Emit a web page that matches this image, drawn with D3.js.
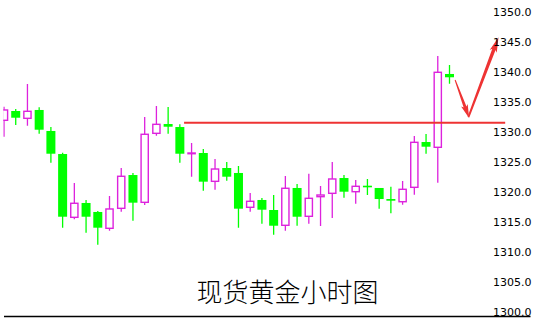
<!DOCTYPE html>
<html>
<head>
<meta charset="utf-8">
<script src="https://cdn.jsdelivr.net/npm/d3@7"></script>
<style>
  body { margin: 0; background: #fff; }
  svg { display: block; }
</style>
</head>
<body>
<div id="chart"></div>
<script>
// hourly spot gold candles
var opens  = [1331.95, 1333.50, 1332.28, 1333.67, 1330.17, 1326.33, 1315.78, 1318.17, 1316.67, 1313.95,
              1317.28, 1322.83, 1318.28, 1329.78, 1331.33, 1330.83, 1326.38, 1326.50, 1321.78, 1324.00,
              1323.17, 1317.45, 1318.67, 1317.00, 1314.45, 1320.67, 1315.95, 1319.22, 1319.78, 1322.33,
              1320.05, 1321.05, 1320.67, 1318.83, 1318.38, 1320.78, 1328.33, 1327.45, 1339.67];
var highs  = [1334.22, 1333.83, 1338.00, 1334.12, 1330.83, 1326.55, 1321.50, 1318.67, 1316.83, 1319.33,
              1324.00, 1323.17, 1332.50, 1334.33, 1334.17, 1331.28, 1328.17, 1327.17, 1325.50, 1325.00,
              1324.33, 1319.83, 1319.00, 1319.50, 1322.67, 1321.33, 1323.05, 1321.00, 1325.00, 1322.83,
              1322.00, 1322.17, 1320.67, 1320.88, 1321.83, 1329.33, 1329.67, 1342.67, 1341.17];
var lows   = [1329.22, 1331.17, 1331.05, 1329.72, 1324.88, 1314.05, 1315.45, 1313.22, 1311.22, 1313.55,
              1316.72, 1315.22, 1317.83, 1329.38, 1329.72, 1324.88, 1322.55, 1320.22, 1320.38, 1321.88,
              1314.05, 1316.72, 1314.72, 1312.88, 1313.55, 1314.38, 1314.72, 1314.33, 1315.67, 1319.05,
              1318.05, 1319.50, 1317.22, 1316.45, 1317.88, 1319.55, 1326.38, 1321.55, 1338.05];
var closes = [1333.67, 1332.38, 1333.45, 1330.38, 1326.38, 1315.88, 1318.12, 1315.88, 1314.05, 1317.17,
              1322.62, 1318.22, 1329.62, 1331.28, 1330.88, 1326.38, 1326.50, 1321.72, 1323.83, 1322.55,
              1317.22, 1318.45, 1317.05, 1314.38, 1320.62, 1315.88, 1318.95, 1319.50, 1322.17, 1320.05,
              1320.95, 1320.78, 1318.83, 1318.55, 1320.45, 1328.28, 1327.55, 1339.95, 1339.12];

var yTicks = [1300, 1305, 1310, 1315, 1320, 1325, 1330, 1335, 1340, 1345, 1350];
var resistance = 1331.55;
var title = "现货黄金小时图";

var width = 537, height = 322;
var upColor = "#dd22dd", downColor = "#00ff00", redColor = "#ee3333";

var svg = d3.select("#chart").append("svg")
    .attr("width", width)
    .attr("height", height);

var x = d3.scaleLinear().domain([0, 38]).range([4, 449.5]);
var y = d3.scaleLinear().domain([1300, 1350]).range([312, 12]);

svg.append("clipPath").attr("id", "plot")
    .append("rect").attr("x", 3.3).attr("y", 0).attr("width", 490).attr("height", 316);

var g = svg.append("g").attr("clip-path", "url(#plot)");

var candles = opens.map(function(o, i) {
    return {i: i, o: o, h: highs[i], l: lows[i], c: closes[i]};
});

var c = g.selectAll("g.candle")
    .data(candles)
    .enter().append("g").attr("class", "candle");

c.append("line")
    .attr("x1", function(d) { return x(d.i); })
    .attr("x2", function(d) { return x(d.i); })
    .attr("y1", function(d) { return y(d.h); })
    .attr("y2", function(d) { return y(d.l); })
    .attr("stroke", function(d) { return d.c >= d.o ? upColor : downColor; })
    .attr("stroke-width", 1.3);

c.append("rect")
    .attr("x", function(d) { return d.c >= d.o ? x(d.i) - 3.6 : x(d.i) - 4.5; })
    .attr("width", function(d) { return d.c >= d.o ? 7.2 : 9; })
    .attr("y", function(d) { return y(Math.max(d.o, d.c)); })
    .attr("height", function(d) { return Math.max(0.6, Math.abs(y(d.o) - y(d.c))); })
    .attr("fill", function(d) { return d.c >= d.o ? "#fff" : downColor; })
    .attr("stroke", function(d) { return d.c >= d.o ? upColor : "none"; })
    .attr("stroke-width", 1.4);

// resistance line
svg.append("line")
    .attr("x1", x(15.36)).attr("x2", x(42.75))
    .attr("y1", y(resistance)).attr("y2", y(resistance))
    .attr("stroke", redColor)
    .attr("stroke-width", 2);

// tapered hand-drawn style arrow, points given as [index, price]
function arrow(from, to, w0, w1, headLen, headW) {
    var x0 = x(from[0]), y0 = y(from[1]), x1 = x(to[0]), y1 = y(to[1]);
    var dx = x1 - x0, dy = y1 - y0, len = Math.sqrt(dx * dx + dy * dy);
    var ux = dx / len, uy = dy / len, nx = -uy, ny = ux;
    var bx = x1 - ux * headLen, by = y1 - uy * headLen;
    var pts = [
        [x0 + nx * w0 / 2, y0 + ny * w0 / 2],
        [bx + nx * w1 / 2, by + ny * w1 / 2],
        [bx + nx * headW / 2 - ux * 2, by + ny * headW / 2 - uy * 2],
        [x1, y1],
        [bx - nx * headW / 2 - ux * 2, by - ny * headW / 2 - uy * 2],
        [bx - nx * w1 / 2, by - ny * w1 / 2],
        [x0 - nx * w0 / 2, y0 - ny * w0 / 2]
    ];
    svg.append("path")
        .attr("d", d3.line()(pts) + "Z")
        .attr("fill", redColor);
}

arrow([38.48, 1338.67], [39.68, 1332.28], 1, 3, 12, 7);
arrow([39.62, 1332.5], [42.18, 1345.78], 2, 3.5, 13, 7.5);

// price axis on the right
var axis = svg.append("g")
    .attr("transform", "translate(493,0)")
    .call(d3.axisRight(y).tickValues(yTicks).tickSize(0).tickPadding(0).tickFormat(d3.format(".1f")));
axis.select(".domain").remove();
axis.selectAll("text")
    .attr("fill", "#000")
    .style("font-family", "'DejaVu Sans', sans-serif")
    .style("font-size", "11px");

// bottom rule
svg.append("line")
    .attr("x1", 4).attr("x2", 530.5)
    .attr("y1", 316.5).attr("y2", 316.5)
    .attr("stroke", "#000")
    .attr("stroke-width", 1.5);

svg.append("text")
    .attr("x", 287.5)
    .attr("y", 302)
    .attr("text-anchor", "middle")
    .style("font-family", "'Noto Sans CJK SC', sans-serif")
    .style("font-size", "26px")
    .style("font-weight", 300)
    .attr("fill", "#000")
    .text(title);
</script>
</body>
</html>
